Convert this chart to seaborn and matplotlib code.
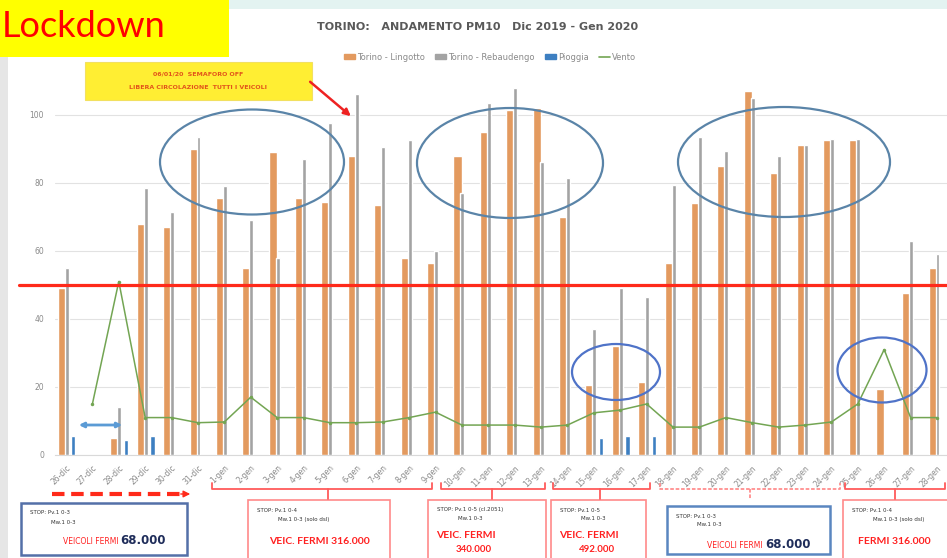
import numpy as np
import pandas as pd
import seaborn as sns
import matplotlib.pyplot as plt
from matplotlib.patches import Rectangle, Ellipse, FancyArrowPatch, Patch
from matplotlib.lines import Line2D

W, H = 947, 558

# giorni: 26 dic 2019 -> 28 gen 2020
giorni = [f"{d}-dic" for d in range(26, 32)] + [f"{d}-gen" for d in range(1, 29)]

# PM10 (ug/m3)
lingotto = [49, np.nan, 5, 68, 67, 90, 75.5, 55, 89, 75.5, 74.5, 88, 73.5, 58, 56.5, 88, 95,
            101.5, 102, 70, 20.5, 32, 21.5, 56.5, 74, 85, 107, 83, 91, 92.5, 92.5, 19.5, 47.5, 55]
rebaudengo = [55, np.nan, 14, 78.5, 71.5, 93.5, 79, 69, 58, 87, 97.5, 106, 90.5, 92.5, 60, 77, 103.5,
              108, 86, 81.5, 37, 49, 46.5, 79.5, 93.5, 89.5, 105, 88, 91, 93, 93, np.nan, 63, 59]
pioggia = [5.5, np.nan, 4.5, 5.5] + [np.nan] * 16 + [5, 5.5, 5.5] + [np.nan] * 11
vento = [np.nan, 15, 51, 11, 11, 9.5, 9.7, 17, 11, 11, 9.5, 9.5, 9.7, 11, 12.6, 8.8, 8.8,
         8.8, 8.2, 8.8, 12.4, 13.2, 15, 8.2, 8.2, 11, 9.5, 8.2, 8.8, 9.7, 15, 31, 11, 11]
limite = 50

df = pd.DataFrame({"pos": np.arange(1, len(giorni) + 1), "giorno": giorni,
                   "lingotto": lingotto, "rebaudengo": rebaudengo,
                   "pioggia": pioggia, "vento": vento})

C_ORANGE = "#e39a5f"
C_GRAY = "#a3a3a3"
C_BLUE = "#3d7fc1"
C_GREEN = "#73a553"
C_RED = "#ff2a1a"
C_TXT = "#8a8a8a"
NARROW = ["Liberation Sans Narrow", "Lato", "DejaVu Sans"]


def fx(x):
    return x / W


def fy(y):
    return 1 - y / H


sns.set_style("white")
fig = plt.figure(figsize=(W / 100, H / 100), dpi=100)
fig.patch.set_facecolor("white")

ax = fig.add_axes([fx(55), fy(455), (W - 55) / W, (455 - 74) / H])

d = df.dropna(subset=["lingotto"])
sns.barplot(x=d["pos"] - 0.16, y=d["lingotto"], native_scale=True, width=0.32,
            color=C_ORANGE, saturation=1, errorbar=None, ax=ax, zorder=3)
d = df.dropna(subset=["rebaudengo"])
sns.barplot(x=d["pos"] + 0.02, y=d["rebaudengo"], native_scale=True, width=0.15,
            color=C_GRAY, saturation=1, errorbar=None, ax=ax, zorder=4)
d = df.dropna(subset=["pioggia"])
sns.barplot(x=d["pos"] + 0.27, y=d["pioggia"], native_scale=True, width=0.17,
            color=C_BLUE, saturation=1, errorbar=None, ax=ax, zorder=4)
d = df.dropna(subset=["vento"])
sns.lineplot(x=d["pos"], y=d["vento"], color=C_GREEN, lw=1.1, marker="o", markersize=2.5,
             markeredgewidth=0, legend=False, ax=ax, zorder=5)

ax.axhline(limite, xmin=-0.04, xmax=1, color=C_RED, lw=2.3, clip_on=False, zorder=6)

ax.set_xlim(0.583, 34.38)
ax.set_ylim(0, 112)
ax.set_yticks(range(0, 101, 20))
ax.set_xticks(df["pos"])
ax.set_xticklabels(df["giorno"], rotation=45, ha="right", rotation_mode="anchor",
                   fontsize=5.5, color=C_TXT)
ax.tick_params(axis="y", labelsize=5.5, labelcolor=C_TXT, length=0, pad=8)
ax.tick_params(axis="x", length=0, pad=6)
ax.set_xlabel("")
ax.set_ylabel("")
ax.grid(axis="y", color="#e2e2e2", lw=0.8)
ax.set_axisbelow(True)
for s in ["top", "right", "left"]:
    ax.spines[s].set_visible(False)
ax.spines["bottom"].set_color("#d9d9d9")

# cornici e sfondo
fig.add_artist(Rectangle((0, 0), fx(8), fy(57), transform=fig.transFigure,
                         facecolor="#e6e6e6", edgecolor="none"))
fig.add_artist(Rectangle((fx(229), fy(9)), 1, 1, transform=fig.transFigure,
                         facecolor="#e3f3f1", edgecolor="none"))
fig.add_artist(Rectangle((0, fy(57)), fx(229), 1, transform=fig.transFigure,
                         facecolor="#ffff00", edgecolor="none"))
fig.text(fx(2), fy(37), "Lockdown", fontsize=26, color="#ff0000",
         family=NARROW, ha="left", va="baseline")

fig.text(fx(478), fy(27), "TORINO:   ANDAMENTO PM10   Dic 2019 - Gen 2020", ha="center",
         va="center", fontsize=8, fontweight="bold", color="#595959")

handles = [Patch(color=C_ORANGE), Patch(color=C_GRAY), Patch(color=C_BLUE),
           Line2D([], [], color=C_GREEN, lw=1.2)]
fig.legend(handles, ["Torino - Lingotto", "Torino - Rebaudengo", "Pioggia", "Vento"],
           loc="center", bbox_to_anchor=(fx(490), fy(57)), ncol=4, frameon=False,
           fontsize=6, labelcolor=C_TXT, handlelength=1.3, handleheight=0.6,
           columnspacing=1.2, handletextpad=0.3)

# nota semaforo
fig.add_artist(Rectangle((fx(85), fy(100)), fx(227), 38 / H, transform=fig.transFigure,
                         facecolor="#ffee33", edgecolor="#f2e060", lw=0.8))
fig.text(fx(198), fy(74), "06/01/20  SEMAFORO OFF", ha="center", va="center",
         fontsize=4.5, fontweight="bold", color="#e2541a")
fig.text(fx(198), fy(88), "LIBERA CIRCOLAZIONE  TUTTI I VEICOLI", ha="center", va="center",
         fontsize=4.5, fontweight="bold", color="#e2541a")
fig.add_artist(FancyArrowPatch((fx(308), fy(80)), (fx(353), fy(118)), transform=fig.transFigure,
                               arrowstyle="-|>", mutation_scale=10, color="#ee2222", lw=1.8))

# ellissi
for cx, cy, w, h, c in [(252, 162, 184, 105, "#5a84a8"), (510, 163, 186, 110, "#5a84a8"),
                        (784, 162, 212, 110, "#5a84a8"), (616, 372, 88, 56, "#4f73c8"),
                        (882, 370, 89, 65, "#4f73c8")]:
    fig.add_artist(Ellipse((fx(cx), fy(cy)), w / W, h / H, transform=fig.transFigure,
                           facecolor="none", edgecolor=c, lw=1.6, zorder=10))

fig.add_artist(FancyArrowPatch((fx(76), fy(425)), (fx(125), fy(425)), transform=fig.transFigure,
                               arrowstyle="<|-|>", mutation_scale=7, color="#5b9bd5", lw=2))

# frecce e parentesi sotto l'asse
fig.add_artist(Line2D([fx(52), fx(182)], [fy(494), fy(494)], transform=fig.transFigure,
                      color=C_RED, lw=3, ls=(0, (3, 1.6))))
fig.add_artist(FancyArrowPatch((fx(178), fy(494)), (fx(193), fy(494)), transform=fig.transFigure,
                               arrowstyle="-|>", mutation_scale=10, color=C_RED, lw=1))


def parentesi(x0, x1, xc, y, col, ls="-"):
    kw = dict(transform=fig.transFigure, color=col, lw=1.3, ls=ls)
    fig.add_artist(Line2D([fx(x0), fx(x0), fx(x1), fx(x1)],
                          [fy(y - 6), fy(y), fy(y), fy(y - 6)], **kw))
    fig.add_artist(Line2D([fx(xc), fx(xc)], [fy(y), fy(y + 10)], **kw))


parentesi(212, 432, 328, 489, "#ff5a5a")
parentesi(441, 545, 492, 489, "#ff5a5a")
parentesi(553, 650, 600, 489, "#ff5a5a")
parentesi(660, 840, 750, 489, "#ff8f8f", ls=(0, (2, 1)))
parentesi(845, 945, 895, 489, "#ff5a5a")

boxes = [
    (21, 503, 166, 52, "#5470a8", "STOP: Pv.1 0-3", "Mw.1 0-3", "VEICOLI FERMI", "68.000"),
    (248, 500, 142, 60, "#ff8a8a", "STOP: Pv.1 0-4", "Mw.1 0-3 (solo dsl)", "VEIC. FERMI", "316.000"),
    (428, 500, 118, 60, "#ff8a8a", "STOP: Pv.1 0-5 (cl.2051)", "Mw.1 0-3", "VEIC. FERMI", "340.000"),
    (551, 500, 95, 60, "#ff8a8a", "STOP: Pv.1 0-5", "Mw.1 0-3", "VEIC. FERMI", "492.000"),
    (667, 506, 163, 48, "#5a86c0", "STOP: Pv.1 0-3", "Mw.1 0-3", "VEICOLI FERMI", "68.000"),
    (843, 500, 110, 60, "#ff8a8a", "STOP: Pv.1 0-4", "Mw.1 0-3 (solo dsl)", "FERMI", "316.000"),
]
for i, (x, y, w, h, ec, l1, l2, l3, num) in enumerate(boxes):
    fig.add_artist(Rectangle((fx(x), fy(y + h)), w / W, h / H, transform=fig.transFigure,
                             facecolor="white", edgecolor=ec, lw=1.8 if ec.startswith("#5") else 1.2))
    fig.text(fx(x + 9), fy(y + 10), l1, fontsize=4, color="#333333", va="center")
    fig.text(fx(x + 30), fy(y + 19), l2, fontsize=4, color="#333333", va="center")
    if i in (0, 4):
        fig.text(fx(x + w * 0.6), fy(y + 39), l3 + " ", fontsize=5.5, color="#ff2020",
                 ha="right", va="center")
        fig.text(fx(x + w * 0.6), fy(y + 38), num, fontsize=8.5, fontweight="bold",
                 color="#1f2d5a", ha="left", va="center")
    elif i in (2, 3):
        fig.text(fx(x + 8), fy(y + 35), l3, fontsize=7.5, fontweight="bold", color="#ff2020",
                 va="center", family=NARROW)
        fig.text(fx(x + 28), fy(y + 49), num, fontsize=7, fontweight="bold", color="#ff2020",
                 va="center", family=NARROW)
    else:
        fig.text(fx(x + w / 2 + (0 if i == 1 else -4)), fy(y + 41), l3 + " " + num, fontsize=7.5,
                 fontweight="bold", color="#ff2020", ha="center", va="center", family=NARROW)

fig.savefig("out.png", dpi=100)
